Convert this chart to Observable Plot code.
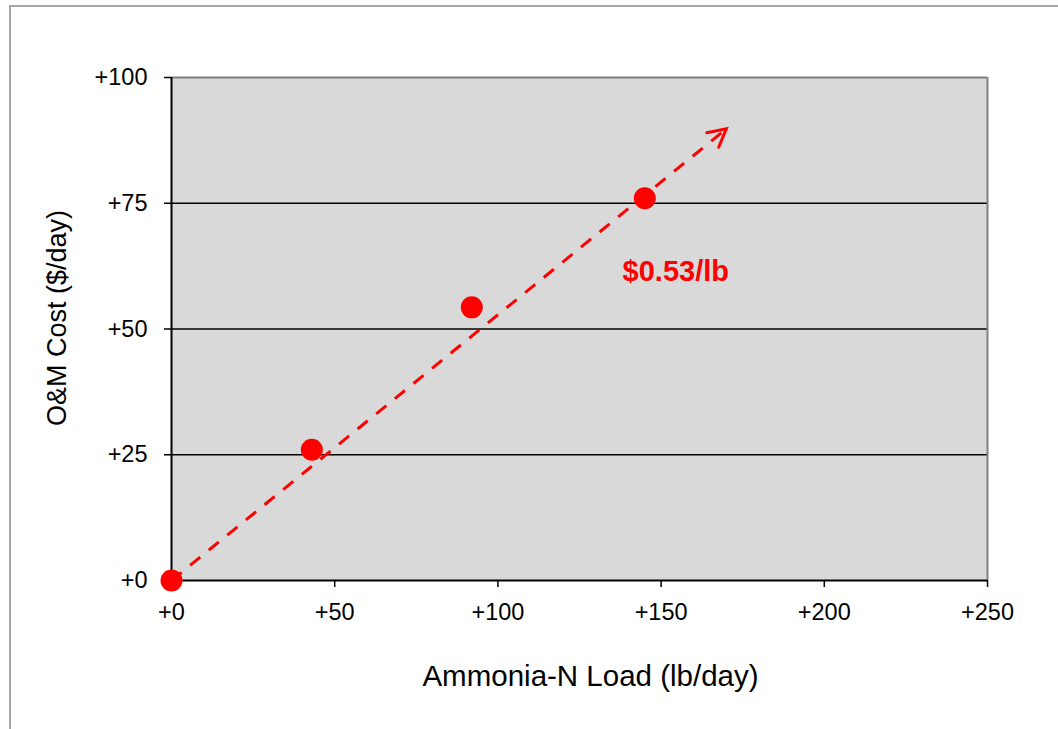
<!DOCTYPE html>
<html><head><meta charset="utf-8">
<script src="https://cdn.jsdelivr.net/npm/d3@7"></script>
<script src="https://cdn.jsdelivr.net/npm/@observablehq/plot@0.6"></script>
<style>
body{margin:0;background:#fff;overflow:hidden;}
#wrap{position:relative;width:1058px;height:729px;}
#border{position:absolute;left:9px;top:5px;width:1100px;height:800px;border-top:2px solid #a6a6a6;border-left:2px solid #a6a6a6;pointer-events:none;}
#chart{position:absolute;left:0;top:0;}
</style></head>
<body><div id="wrap"><div id="border"></div><div id="chart"></div></div>
<script>
const loads = [0, 43, 92, 145];
const costs = [0, 26, 54.3, 76];
const xTicks = [0, 50, 100, 150, 200, 250];
const yTicks = [0, 25, 50, 75, 100];
const gridY = [25, 50, 75];
const trendStart = {x: 0, y: 0};
const trendEnd = {x: 170, y: 89.8};
const rateLabel = "$0.53/lb";
const labelPos = {x: 154.5, y: 61.3};

const pts = loads.map((x, i) => ({x, y: costs[i]}));
const plus = d => "+" + d;

// open arrowhead (wings only) for Plot.vector
const wingsOnly = {
  draw(context, l) {
    const a = 20, th = 28 * Math.PI / 180;
    const wx = a * Math.sin(th), wy = a * Math.cos(th);
    context.moveTo(-wx, -l + wy);
    context.lineTo(0, -l);
    context.lineTo(wx, -l + wy);
  }
};

const chart = Plot.plot({
  width: 1058, height: 729,
  marginLeft: 171, marginRight: 71, marginTop: 77, marginBottom: 149,
  style: {fontFamily: "'Liberation Sans', Arial, sans-serif", fontSize: "23.5px", color: "#000", background: "transparent"},
  x: {domain: [0, 250]},
  y: {domain: [0, 100]},
  marks: [
    Plot.frame({fill: "#d9d9d9", stroke: null}),
    Plot.ruleY(gridY, {stroke: "#000", strokeWidth: 1.5}),
    Plot.ruleY([100], {stroke: "#808080", strokeWidth: 2}),
    Plot.ruleX([250], {stroke: "#808080", strokeWidth: 2}),
    Plot.ruleX([0], {stroke: "#000", strokeWidth: 2}),
    Plot.ruleY([0], {stroke: "#000", strokeWidth: 2}),
    Plot.axisX({ticks: xTicks, tickFormat: plus, tickSize: 7, tickPadding: 16, strokeWidth: 1.5, label: null, fontSize: 23.5}),
    Plot.axisY({ticks: yTicks, tickFormat: plus, tickSize: 7, tickPadding: 17, strokeWidth: 1.5, label: null, fontSize: 23.5}),
    Plot.text(["Ammonia-N Load (lb/day)"], {frameAnchor: "bottom", dx: 11, dy: 105, fontSize: 29.5}),
    Plot.text(["O&M Cost ($/day)"], {frameAnchor: "left", textAnchor: "middle", dx: -114, dy: -11, rotate: -90, fontSize: 27}),
    Plot.link([{x1: trendStart.x, y1: trendStart.y, x2: trendEnd.x, y2: trendEnd.y}], {x1: "x1", y1: "y1", x2: "x2", y2: "y2", stroke: "#ff0000", strokeWidth: 3, strokeDasharray: "13,11"}),
    Plot.vector([trendEnd], {x: "x", y: "y", anchor: "end", length: 20, rotate: 50.7, shape: wingsOnly, stroke: "#ff0000", strokeWidth: 3, strokeLinejoin: "miter"}),
    Plot.dot(pts, {x: "x", y: "y", r: 11, fill: "#ff0000", stroke: null}),
    Plot.text([rateLabel], {x: () => labelPos.x, y: () => labelPos.y, text: d => d, fill: "#ff0000", fontWeight: "bold", fontSize: 29})
  ]
});
document.getElementById("chart").appendChild(chart);
</script></body></html>
